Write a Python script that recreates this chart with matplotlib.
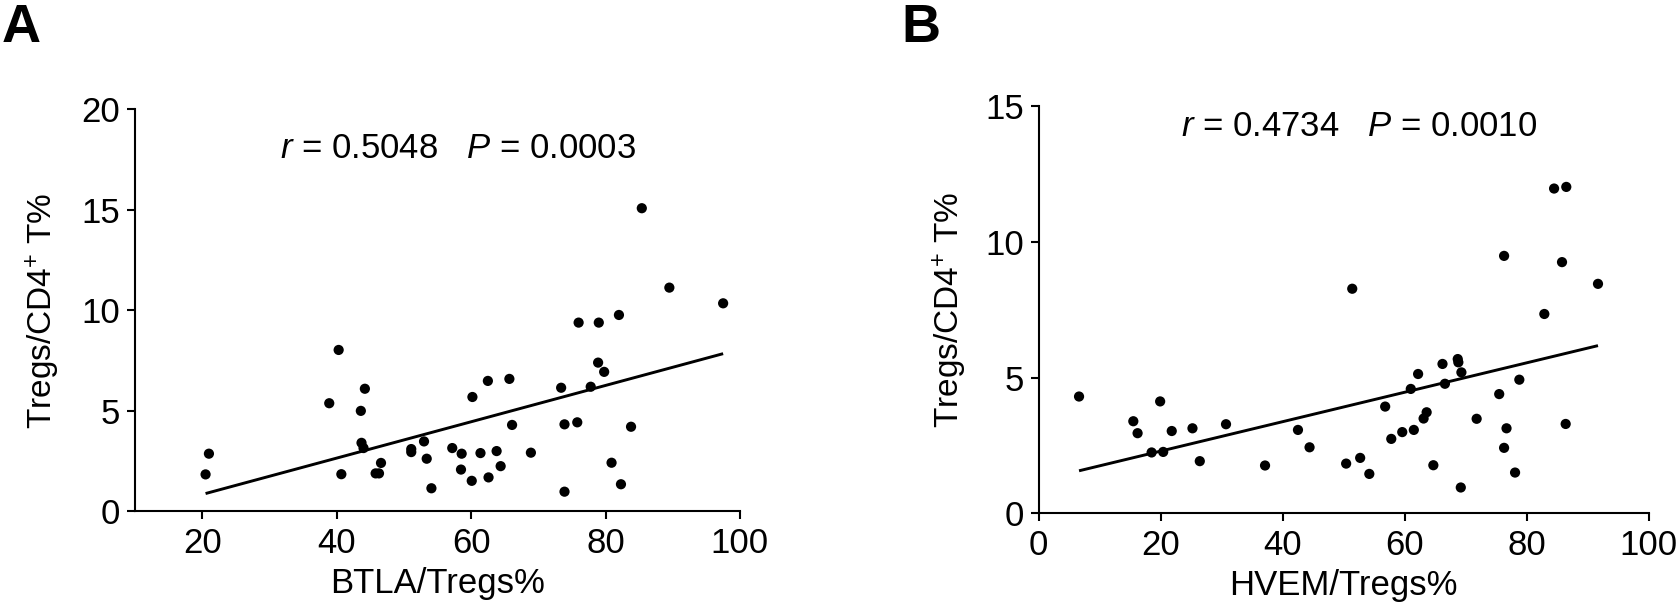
import numpy as np
import matplotlib
matplotlib.use("Agg")
import matplotlib.pyplot as plt

plt.rcParams['font.family'] = ['Liberation Sans', 'DejaVu Sans']
plt.rcParams['mathtext.fontset'] = 'custom'
plt.rcParams['mathtext.rm'] = 'Liberation Sans'
plt.rcParams['mathtext.it'] = 'Liberation Sans:italic'

# panel A: BTLA/Tregs% vs Tregs/CD4+ T%
btla_x = [20.5, 21.0, 38.9, 40.3, 40.7, 43.6, 43.7, 44.0, 44.2, 45.8, 46.3, 46.6,
          51.1, 51.1, 53.0, 53.4, 54.1, 57.2, 58.5, 58.6, 60.1, 60.2, 61.4, 62.5,
          62.6, 63.8, 64.4, 65.7, 66.1, 68.9, 73.4, 73.9, 73.9, 75.8, 76.0, 77.8,
          78.9, 79.0, 79.8, 80.9, 82.0, 82.3, 83.8, 85.4, 89.5, 97.5]
btla_y = [1.84, 2.87, 5.38, 8.03, 1.85, 5.00, 3.41, 3.15, 6.10, 1.89, 1.89, 2.41,
          3.10, 2.95, 3.48, 2.62, 1.15, 3.15, 2.08, 2.87, 1.52, 5.69, 2.90, 6.49,
          1.69, 3.00, 2.25, 6.59, 4.30, 2.92, 6.15, 4.33, 0.98, 4.43, 9.39, 6.20,
          7.40, 9.39, 6.94, 2.42, 9.77, 1.35, 4.21, 15.08, 11.13, 10.35]

# panel B: HVEM/Tregs% vs Tregs/CD4+ T%
hvem_x = [6.6, 15.5, 16.2, 18.5, 19.9, 20.4, 21.8, 25.2, 26.4, 30.7,
          37.1, 42.5, 44.4, 50.4, 51.4, 52.7, 54.2, 56.8, 57.8, 59.6,
          61.0, 61.5, 62.2, 63.1, 63.6, 64.7, 66.2, 66.6, 68.7, 68.8,
          69.2, 69.3, 71.8, 75.5, 76.3, 76.3, 76.7, 78.1, 78.8, 82.9,
          84.5, 85.8, 86.5, 86.4, 91.7]
hvem_y = [4.30, 3.39, 2.95, 2.24, 4.12, 2.26, 3.03, 3.13, 1.92, 3.28,
          1.76, 3.07, 2.43, 1.83, 8.27, 2.04, 1.45, 3.93, 2.74, 2.99,
          4.58, 3.07, 5.13, 3.49, 3.72, 1.77, 5.50, 4.77, 5.68, 5.56,
          0.95, 5.19, 3.48, 4.39, 9.48, 2.41, 3.13, 1.50, 4.92, 7.34,
          11.96, 9.25, 12.02, 3.29, 8.45]

stats_a = r'$r$ = 0.5048   $P$ = 0.0003'
stats_b = r'$r$ = 0.4734   $P$ = 0.0010'

FS = 25


def draw_panel(ax, x, y, xlim, xticks, ylim, yticks, xlabel, stats, stats_pos, ylabelpad):
    x = np.array(x)
    y = np.array(y)
    ax.scatter(x, y, s=54, color='black', edgecolors='none', zorder=3, clip_on=False)
    k, b = np.polyfit(x, y, 1)
    xs = np.array([x.min(), x.max()])
    ax.plot(xs, k * xs + b, color='black', lw=2.1, solid_capstyle='butt')
    ax.set_xlim(*xlim)
    ax.set_ylim(*ylim)
    ax.set_xticks(xticks)
    ax.set_yticks(yticks)
    for s in ['top', 'right']:
        ax.spines[s].set_visible(False)
    for s in ['left', 'bottom']:
        ax.spines[s].set_linewidth(1.5)
    ax.tick_params(axis='both', width=1.5, length=5.5, labelsize=FS, direction='out')
    ax.tick_params(axis='x', pad=6)
    ax.tick_params(axis='y', pad=5)
    ax.set_xlabel(xlabel, fontsize=FS, labelpad=5)
    ax.set_ylabel('Tregs/CD4$^{+}$ T%', fontsize=24, labelpad=ylabelpad)
    ax.text(stats_pos[0], stats_pos[1], stats, fontsize=FS, va='baseline', ha='left')


fig = plt.figure(figsize=(16.79, 6.12), dpi=100)
ax1 = fig.add_axes([0.0804, 0.1644, 0.3603, 0.657])
ax2 = fig.add_axes([0.6187, 0.1613, 0.3632, 0.6655])

draw_panel(ax1, btla_x, btla_y, (10, 100), [20, 40, 60, 80, 100], (0, 20), [0, 5, 10, 15, 20],
           'BTLA/Tregs%', stats_a, (31.6, 17.6), 14)
draw_panel(ax2, hvem_x, hvem_y, (0, 100), [0, 20, 40, 60, 80, 100], (0, 15), [0, 5, 10, 15],
           'HVEM/Tregs%', stats_b, (23.4, 13.9), 12)

fig.text(0.001, 1 - 42 / 612, 'A', fontsize=39, fontweight='bold', va='baseline', ha='left')
fig.text(901 / 1679, 1 - 42 / 612, 'B', fontsize=39, fontweight='bold', va='baseline', ha='left')

fig.savefig('out.png', dpi=100)
